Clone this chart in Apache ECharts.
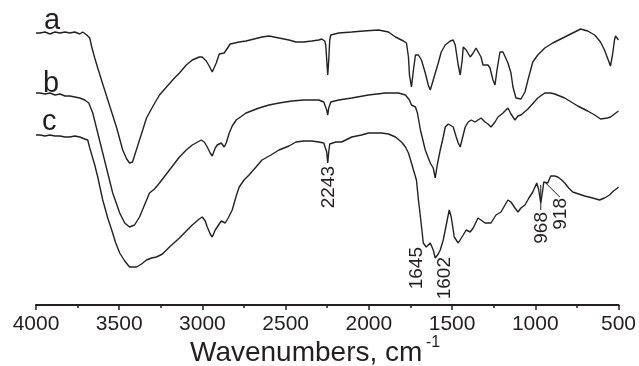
<!DOCTYPE html>
<html><head><meta charset="utf-8">
<script src="https://cdn.jsdelivr.net/npm/echarts@6/dist/echarts.min.js"></script>
<style>html,body{margin:0;padding:0;background:#fff}#c{width:639px;height:366px}</style>
</head><body><div id="c"></div>
<script>
// FTIR spectra: [wavenumber (cm-1), transmittance (a.u., offset)]
const curveA = [[4000,272],[3976,272],[3946,273],[3916,271],[3886,273],[3856,272],[3826,273],[3797,272],[3767,273],[3737,271],[3719,273],[3707,271],[3695,270],[3677,267],[3665,258],[3647,247],[3629,237],[3599,221],[3557,199],[3515,177],[3479,155],[3455,146],[3438,142],[3420,143],[3408,145],[3378,165],[3336,187],[3300,198],[3258,210],[3216,218],[3168,227],[3138,232],[3097,240],[3061,245],[3019,248],[3001,248],[2977,244],[2959,239],[2941,233],[2929,235],[2917,242],[2899,251],[2869,252],[2857,253],[2845,258],[2833,261],[2779,263],[2738,264],[2690,266],[2642,268],[2600,269],[2540,267],[2480,265],[2438,263],[2391,263],[2343,264],[2301,265],[2283,266],[2265,264],[2259,260],[2253,245],[2247,230],[2241,245],[2235,265],[2229,270],[2181,272],[2103,273],[2032,274],[1942,275],[1882,273],[1840,268],[1792,264],[1774,262],[1768,255],[1762,248],[1756,230],[1744,218],[1732,235],[1720,250],[1702,250],[1684,245],[1661,232],[1643,220],[1631,215],[1613,225],[1583,242],[1565,253],[1541,260],[1511,264],[1493,265],[1481,260],[1463,240],[1451,230],[1439,245],[1433,258],[1421,258],[1415,255],[1403,253],[1391,248],[1373,252],[1356,257],[1344,258],[1326,248],[1314,240],[1284,240],[1272,237],[1254,225],[1242,220],[1230,235],[1212,253],[1194,253],[1182,252],[1164,242],[1146,232],[1134,218],[1116,207],[1104,205],[1086,206],[1062,213],[1044,225],[1015,243],[985,250],[943,257],[895,262],[823,268],[775,272],[727,276],[685,274],[643,270],[608,263],[584,255],[566,247],[548,239],[536,250],[524,265],[518,269],[506,268],[500,265]];
const curveB = [[4000,212],[3976,212],[3946,211],[3916,212],[3886,210],[3856,211],[3826,209],[3797,209],[3767,208],[3737,207],[3707,205],[3683,202],[3659,192],[3629,172],[3599,152],[3569,132],[3539,112],[3497,92],[3467,82],[3438,78],[3408,80],[3378,88],[3348,100],[3318,112],[3288,116],[3258,122],[3198,135],[3138,148],[3097,155],[3061,160],[3007,165],[2989,163],[2971,158],[2953,152],[2941,149],[2923,157],[2911,160],[2887,162],[2869,158],[2857,162],[2839,172],[2821,179],[2797,185],[2738,192],[2660,197],[2600,200],[2540,202],[2462,204],[2391,205],[2343,205],[2301,205],[2271,203],[2259,201],[2253,195],[2247,190],[2241,197],[2229,203],[2181,205],[2103,207],[2002,210],[1900,212],[1822,212],[1780,210],[1756,205],[1744,200],[1720,198],[1708,192],[1690,175],[1661,155],[1631,142],[1613,137],[1601,127],[1589,140],[1571,155],[1553,168],[1541,178],[1523,181],[1511,183],[1493,178],[1475,168],[1463,162],[1451,158],[1433,170],[1421,178],[1403,183],[1385,185],[1362,183],[1344,185],[1326,187],[1302,183],[1284,181],[1266,178],[1242,183],[1224,188],[1194,192],[1164,197],[1146,191],[1122,185],[1104,189],[1086,190],[1044,196],[985,207],[943,212],[907,212],[883,211],[823,207],[745,199],[685,194],[643,190],[608,186],[566,187],[548,188],[524,191],[500,194]];
const curveC = [[4000,170],[3976,170],[3946,169],[3916,170],[3886,169],[3856,169],[3826,168],[3797,168],[3767,169],[3737,168],[3707,166],[3689,165],[3677,157],[3647,140],[3629,128],[3599,105],[3569,87],[3545,75],[3521,62],[3497,52],[3467,44],[3438,38],[3396,38],[3366,41],[3336,45],[3306,47],[3276,48],[3240,51],[3198,58],[3138,67],[3097,74],[3061,80],[3019,86],[3001,88],[2983,84],[2971,78],[2953,71],[2941,68],[2923,75],[2911,78],[2887,84],[2863,82],[2845,87],[2821,95],[2797,109],[2779,118],[2750,125],[2720,130],[2678,138],[2642,145],[2588,150],[2540,155],[2480,159],[2438,163],[2391,164],[2343,164],[2301,163],[2271,162],[2259,160],[2253,153],[2247,142],[2241,153],[2235,161],[2223,163],[2199,163],[2163,163],[2151,164],[2103,168],[2044,170],[2002,172],[1924,172],[1882,171],[1840,168],[1804,163],[1780,158],[1762,152],[1744,142],[1732,135],[1714,125],[1702,105],[1690,88],[1678,70],[1673,62],[1655,58],[1643,60],[1631,62],[1613,55],[1601,47],[1583,51],[1571,55],[1553,65],[1541,75],[1529,85],[1517,95],[1505,88],[1493,75],[1487,68],[1463,62],[1451,60],[1433,70],[1415,75],[1391,73],[1373,77],[1344,87],[1326,85],[1302,82],[1266,82],[1236,90],[1206,93],[1182,100],[1164,105],[1146,103],[1122,97],[1104,93],[1086,97],[1062,100],[1038,107],[1015,113],[991,122],[979,115],[967,102],[955,115],[949,123],[937,124],[925,122],[907,129],[883,129],[865,128],[841,125],[823,122],[799,117],[775,113],[739,111],[703,109],[655,107],[614,105],[584,107],[554,110],[530,114],[506,117],[500,118]];

const xRange = [500, 4000];
const xStep = 500;
const curveTags = [{text:'a', wn:3952, t:284}, {text:'b', wn:3958, t:221}, {text:'c', wn:3964, t:183}];
const peakLabels = [{text:'2243', wn:2241, t:139}, {text:'1645', wn:1712, t:58}, {text:'1602', wn:1544, t:48}, {text:'968', wn:958, t:93}, {text:'918', wn:844, t:107}];
const leaders = [[[967,120],[967,95]], [[943,123],[853,108]]];

const INK = '#231f20';
const FONT = '"Liberation Sans", Arial, sans-serif';
const chart = echarts.init(document.getElementById('c'));
const mkSeries = d => ({type:'line', data:d, showSymbol:false, symbol:'none', silent:true,
  lineStyle:{color:'#222', width:1.4}});
chart.setOption({
  animation:false,
  grid:{left:36, right:18, top:0, bottom:61},
  xAxis:{type:'value', inverse:true, min:xRange[0], max:xRange[1], interval:xStep,
    axisLine:{onZero:false, lineStyle:{color:INK, width:2}},
    axisTick:{length:5, lineStyle:{color:INK, width:1.5}},
    minorTick:{show:true, splitNumber:2, length:3, lineStyle:{color:INK, width:1.5}},
    splitLine:{show:false},
    axisLabel:{color:INK, fontSize:21, fontFamily:FONT, margin:9, formatter: v => String(v)}},
  yAxis:{type:'value', min:0, max:305, show:false, splitLine:{show:false}},
  series:[mkSeries(curveA), mkSeries(curveB), mkSeries(curveC)]
});
const P = (w, v) => chart.convertToPixel({xAxisIndex:0, yAxisIndex:0}, [w, v]);
const g = [];
curveTags.forEach(c => { const p = P(c.wn, c.t);
  g.push({type:'text', x:p[0], y:p[1], style:{text:c.text, fontSize:29, fontFamily:FONT, fill:INK, align:'left', verticalAlign:'middle'}}); });
peakLabels.forEach(c => { const p = P(c.wn, c.t);
  g.push({type:'text', x:p[0], y:p[1], rotation:Math.PI/2, style:{text:c.text, fontSize:19, fontFamily:FONT, fill:INK, align:'right', verticalAlign:'middle'}}); });
leaders.forEach(l => { const a = P(l[0][0], l[0][1]), b = P(l[1][0], l[1][1]);
  g.push({type:'line', shape:{x1:a[0], y1:a[1], x2:b[0], y2:b[1]}, style:{stroke:INK, lineWidth:1}}); });
g.push({type:'text', x:190, y:353, style:{text:'Wavenumbers, cm', fontSize:28, fontFamily:FONT, fill:INK, align:'left', verticalAlign:'middle'}});
g.push({type:'text', x:426, y:343, style:{text:'-1', fontSize:16, fontFamily:FONT, fill:INK, align:'left', verticalAlign:'middle'}});
chart.setOption({graphic:g});
</script></body></html>
